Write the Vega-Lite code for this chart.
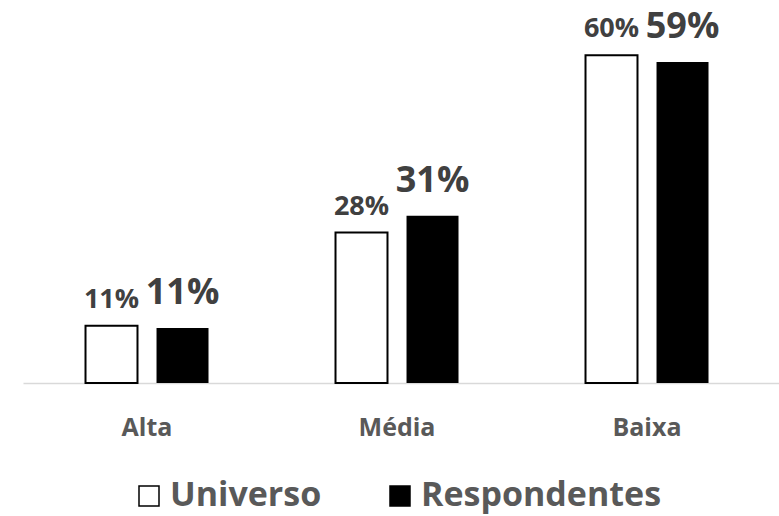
{
  "$schema": "https://vega.github.io/schema/vega-lite/v6.json",
  "width": 756,
  "height": 338,
  "autosize": {"type": "none"},
  "padding": {"top": 45, "left": 23, "right": 0, "bottom": 133},
  "background": "white",
  "config": {
    "view": {"stroke": null},
    "font": "Open Sans"
  },
  "data": {
    "values": [
      {"category": "Alta", "series": "Universo", "value": 0.105, "label": "11%"},
      {"category": "Alta", "series": "Respondentes", "value": 0.101, "label": "11%"},
      {"category": "Média", "series": "Universo", "value": 0.276, "label": "28%"},
      {"category": "Média", "series": "Respondentes", "value": 0.307, "label": "31%"},
      {"category": "Baixa", "series": "Universo", "value": 0.601, "label": "60%"},
      {"category": "Baixa", "series": "Respondentes", "value": 0.589, "label": "59%"}
    ]
  },
  "encoding": {
    "x": {
      "field": "category",
      "type": "nominal",
      "sort": ["Alta", "Média", "Baixa"],
      "scale": {"paddingInner": 0.508, "paddingOuter": 0.266, "align": 0.47},
      "axis": {
        "title": null,
        "labelAngle": 0,
        "ticks": false,
        "domainColor": "#d9d9d9",
        "domainWidth": 1.5,
        "labelFont": "Open Sans",
        "labelFontWeight": "bold",
        "labelFontSize": 25,
        "labelColor": "#595959",
        "labelBaseline": "alphabetic",
        "labelPadding": 52
      }
    },
    "xOffset": {
      "field": "series",
      "type": "nominal",
      "sort": ["Universo", "Respondentes"],
      "scale": {"paddingInner": 0.268, "paddingOuter": 0}
    },
    "y": {
      "field": "value",
      "type": "quantitative",
      "scale": {"domain": [0, 0.62], "nice": false},
      "axis": null
    }
  },
  "layer": [
    {
      "mark": {"type": "bar", "stroke": "black"},
      "encoding": {
        "fill": {
          "field": "series",
          "type": "nominal",
          "sort": ["Universo", "Respondentes"],
          "scale": {"domain": ["Universo", "Respondentes"], "range": ["white", "black"]},
          "legend": {
            "title": null,
            "orient": "none",
            "legendX": 109,
            "legendY": 434,
            "direction": "horizontal",
            "symbolType": "square",
            "symbolSize": 400,
            "symbolStrokeColor": "black",
            "symbolStrokeWidth": 1.5,
            "labelFont": "Open Sans",
            "labelFontWeight": "bold",
            "labelFontSize": 34,
            "labelColor": "#595959",
            "labelLimit": 400,
            "labelOffset": 4,
            "columnPadding": 61
          }
        },
        "strokeWidth": {
          "condition": {"test": "datum.series === 'Universo'", "value": 2},
          "value": 0
        }
      }
    },
    {
      "transform": [{"filter": "datum.series === 'Universo'"}],
      "mark": {"type": "text", "font": "Open Sans", "fontWeight": "bold", "fontSize": 27, "color": "#404040", "baseline": "alphabetic", "dy": -18},
      "encoding": {"text": {"field": "label"}}
    },
    {
      "transform": [{"filter": "datum.series === 'Respondentes'"}],
      "mark": {"type": "text", "font": "Open Sans", "fontWeight": "bold", "fontSize": 36, "color": "#404040", "baseline": "alphabetic", "dy": -24},
      "encoding": {"text": {"field": "label"}}
    }
  ]
}
